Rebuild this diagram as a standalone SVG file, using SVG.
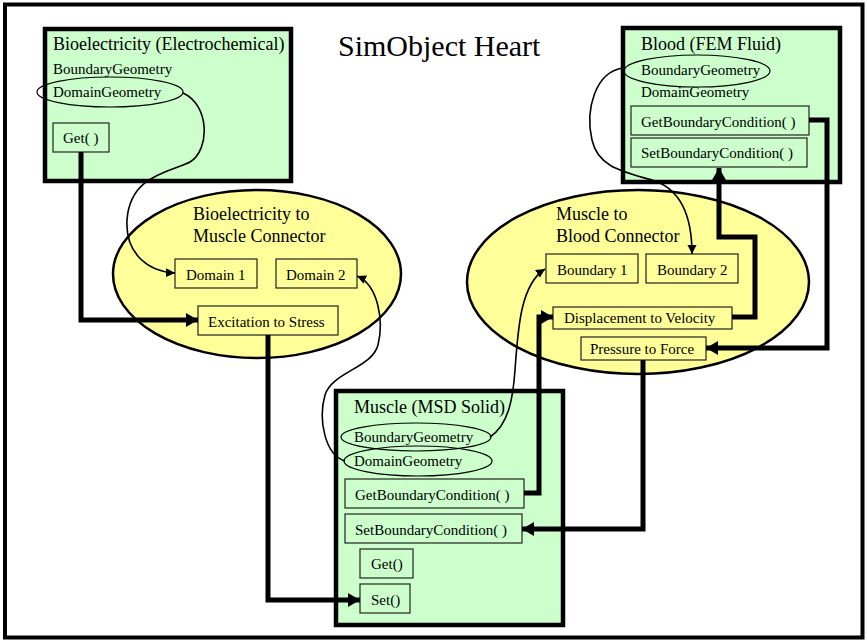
<svg xmlns="http://www.w3.org/2000/svg" width="867" height="641" viewBox="0 0 867 641">
<defs>
<style>
text{font-family:"Liberation Serif","Times New Roman",serif;fill:#000}
.t{font-size:30px}
.h{font-size:18px}
.s{font-size:15px}
.node{fill:#ccffcc;stroke:#000;stroke-width:4.5}
.conn{fill:#ffff99;stroke:#000;stroke-width:2.5}
.gbox{fill:#ccffcc;stroke:#222;stroke-width:1.2}
.ybox{fill:#ffff99;stroke:#222;stroke-width:1.2}
.oval{fill:none;stroke:#000;stroke-width:1.2}
.thick{fill:none;stroke:#000;stroke-width:5;marker-end:url(#big)}
.thin{fill:none;stroke:#000;stroke-width:1.6;marker-end:url(#small)}
</style>
<marker id="big" markerUnits="userSpaceOnUse" markerWidth="14" markerHeight="14" refX="12" refY="7" orient="auto">
<path d="M0,0 L12,7 L0,14 Z" fill="#000"/>
</marker>
<marker id="small" markerUnits="userSpaceOnUse" markerWidth="10" markerHeight="10" refX="9" refY="4.5" orient="auto">
<path d="M0,0 L9,4.5 L0,9 Z" fill="#000"/>
</marker>
</defs>
<rect x="0" y="0" width="867" height="641" fill="#fff"/>
<rect id="frame" x="5" y="4.5" width="857.5" height="633" fill="none" stroke="#000" stroke-width="4"/>
<text class="t" x="338" y="56">SimObject Heart</text>

<g id="bioelectricity">
<rect class="node" x="45" y="29" width="246" height="152"/>
<text class="h" x="53" y="50">Bioelectricity (Electrochemical)</text>
<text class="s" x="53" y="74">BoundaryGeometry</text>
<ellipse class="oval" cx="110" cy="92" rx="73" ry="15"/>
<text class="s" x="53" y="97">DomainGeometry</text>
<rect class="gbox" x="53" y="123" width="56" height="29"/>
<text class="s" x="63" y="143">Get( )</text>
</g>

<g id="blood">
<rect class="node" x="623" y="28" width="217" height="154"/>
<text class="h" x="641" y="50">Blood (FEM Fluid)</text>
<ellipse class="oval" cx="697" cy="71" rx="73" ry="16"/>
<text class="s" x="641" y="75">BoundaryGeometry</text>
<text class="s" x="641" y="97">DomainGeometry</text>
<rect class="gbox" x="631" y="106" width="178" height="29"/>
<text class="s" x="641" y="127">GetBoundaryCondition( )</text>
<rect class="gbox" x="631" y="138" width="176" height="29"/>
<text class="s" x="641" y="158">SetBoundaryCondition( )</text>
</g>

<g id="bio-muscle-connector">
<ellipse class="conn" cx="257" cy="274" rx="144" ry="84"/>
<text class="h" x="193" y="220">Bioelectricity to</text>
<text class="h" x="193" y="242">Muscle Connector</text>
<rect class="ybox" x="175" y="259" width="82" height="29"/>
<text class="s" x="186" y="280">Domain 1</text>
<rect class="ybox" x="276" y="259" width="81" height="29"/>
<text class="s" x="286" y="280">Domain 2</text>
<rect class="ybox" x="198" y="306" width="140" height="29"/>
<text class="s" x="208" y="327">Excitation to Stress</text>
</g>

<g id="muscle-blood-connector">
<ellipse class="conn" cx="638" cy="282" rx="171" ry="92"/>
<text class="h" x="556" y="220">Muscle to</text>
<text class="h" x="556" y="242">Blood Connector</text>
<rect class="ybox" x="546" y="254" width="92" height="29"/>
<text class="s" x="557" y="275">Boundary 1</text>
<rect class="ybox" x="646" y="254" width="92" height="29"/>
<text class="s" x="657" y="275">Boundary 2</text>
<rect class="ybox" x="553" y="307" width="179" height="22"/>
<text class="s" x="564" y="323">Displacement to Velocity</text>
<rect class="ybox" x="581" y="337" width="125" height="23"/>
<text class="s" x="590" y="354">Pressure to Force</text>
</g>

<g id="muscle">
<rect class="node" x="336" y="391" width="227" height="234"/>
<text class="h" x="354" y="413">Muscle (MSD Solid)</text>
<ellipse class="oval" cx="416" cy="437" rx="75" ry="14"/>
<text class="s" x="354" y="442">BoundaryGeometry</text>
<ellipse class="oval" cx="418" cy="461" rx="74" ry="15"/>
<text class="s" x="354" y="466">DomainGeometry</text>
<rect class="gbox" x="345" y="479" width="179" height="29"/>
<text class="s" x="355" y="500">GetBoundaryCondition( )</text>
<rect class="gbox" x="345" y="514" width="177" height="29"/>
<text class="s" x="355" y="535">SetBoundaryCondition( )</text>
<rect class="gbox" x="360" y="549" width="53" height="29"/>
<text class="s" x="371" y="569">Get()</text>
<rect class="gbox" x="360" y="584" width="50" height="29"/>
<text class="s" x="371" y="605">Set()</text>
</g>

<g id="connectors">
<path class="thick" d="M81,152 V320 H198"/>
<path class="thick" d="M268,335 V600 H360"/>
<path class="thick" d="M524,493 H539 V317 H553"/>
<path class="thick" d="M732,317 H755 V237 H719 V168"/>
<path class="thick" d="M809,120 H827 V348 H706"/>
<path class="thick" d="M643,360 V529 H522"/>
<path class="thin" d="M183,93 C210,105 210,150 190,162 C170,172 130,175 127,220 C125,255 150,272 175,273"/>
<path class="thin" d="M345,461 C325,455 318,420 325,395 C332,372 372,368 378,345 C384,320 378,285 357,276"/>
<path class="thin" d="M490,437 C508,425 513,400 515,370 C518,330 520,285 545,269"/>
<path class="thin" d="M623,68 C595,72 585,110 592,140 C598,168 625,172 655,181 C680,190 692,215 692,254"/>
</g>
</svg>
